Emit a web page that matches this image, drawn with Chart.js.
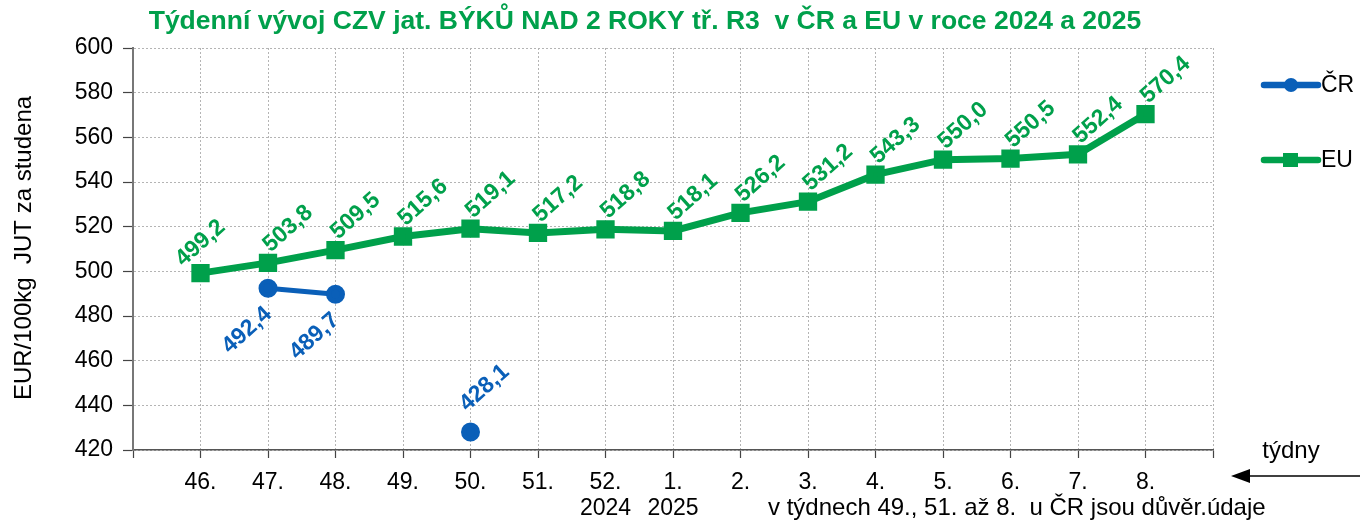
<!DOCTYPE html>
<html>
<head>
<meta charset="utf-8">
<script src="https://cdn.jsdelivr.net/npm/chart.js@4.4.1/dist/chart.umd.min.js"></script>
<style>
  html, body { margin: 0; padding: 0; background: #fff; }
  #wrap { width: 1360px; height: 521px; }
</style>
</head>
<body>
<div id="wrap"><canvas id="graf" width="1360" height="521"></canvas></div>
<script>
// týdny (2024 -> 2025)
const tydny = ['46.', '47.', '48.', '49.', '50.', '51.', ['52.', '2024'], ['1.', '2025'], '2.', '3.', '4.', '5.', '6.', '7.', '8.'];
// CZV jat. býků nad 2 roky tř. R3, EUR/100kg JUT za studena
const cenyCR = [null, 492.4, 489.7, null, 428.1, null, null, null, null, null, null, null, null, null, null];
const cenyEU = [499.2, 503.8, 509.5, 515.6, 519.1, 517.2, 518.8, 518.1, 526.2, 531.2, 543.3, 550.0, 550.5, 552.4, 570.4];
const osaYmin = 420;
const osaYmax = 600;
const osaYkrok = 20;

const ZELENA = '#00A04B';
const MODRA = '#0A5FB8';
const PISMO = "'Liberation Sans', Arial, sans-serif";

// prazdne sloty na krajich osy -> body lezi na mrizce
const popisky = ['', ...tydny, ''];
const sCR = [null, ...cenyCR, null];
const sEU = [null, ...cenyEU, null];

const fmt = v => v.toFixed(1).replace('.', ',');

const texty = {
    id: 'texty',
    afterDatasetsDraw(chart) {
        const ctx = chart.ctx;
        ctx.save();

        // popisky hodnot, otocene
        chart.data.datasets.forEach((ds, i) => {
            const meta = chart.getDatasetMeta(i);
            ctx.fillStyle = ds.borderColor;
            ctx.font = 'bold 23px ' + PISMO;
            ctx.textAlign = 'center';
            ctx.textBaseline = 'middle';
            let prvni = true;
            meta.data.forEach((pt, j) => {
                const v = ds.data[j];
                if (v == null) return;
                let dx = 20, dy = -34;
                if (ds.label === 'EU' && prvni) { dx = 0; dy = -30; }
                if (ds.label === 'ČR') {
                    if (v > 450) { dx = -21; dy = 42; } else { dx = 14; dy = -44; }
                }
                prvni = false;
                ctx.save();
                ctx.translate(pt.x + dx, pt.y + dy);
                ctx.rotate(-42 * Math.PI / 180);
                ctx.fillText(fmt(v), 0, 0);
                ctx.restore();
            });
        });

        // nadpis
        ctx.fillStyle = ZELENA;
        ctx.font = 'bold 26.5px ' + PISMO;
        ctx.textAlign = 'center';
        ctx.textBaseline = 'middle';
        ctx.fillText('Týdenní vývoj CZV jat. BÝKŮ NAD 2 ROKY tř. R3  v ČR a EU v roce 2024 a 2025', 645, 22);

        // popis osy Y
        ctx.fillStyle = '#000';
        ctx.font = '24px ' + PISMO;
        ctx.save();
        ctx.translate(24, 248);
        ctx.rotate(-Math.PI / 2);
        ctx.fillText('EUR/100kg  JUT za studena', 0, 0);
        ctx.restore();

        // legenda
        const leg = [
            { t: 'ČR', c: MODRA, y: 85, m: 'circle' },
            { t: 'EU', c: ZELENA, y: 160, m: 'square' }
        ];
        leg.forEach(l => {
            ctx.strokeStyle = l.c;
            ctx.fillStyle = l.c;
            ctx.lineWidth = 6.5;
            ctx.lineCap = 'round';
            ctx.beginPath();
            ctx.moveTo(1264, l.y);
            ctx.lineTo(1318, l.y);
            ctx.stroke();
            if (l.m === 'circle') {
                ctx.beginPath();
                ctx.arc(1291, l.y, 7, 0, Math.PI * 2);
                ctx.fill();
            } else {
                ctx.fillRect(1283, l.y - 7, 15, 14);
            }
            ctx.fillStyle = '#000';
            ctx.font = '23px ' + PISMO;
            ctx.textAlign = 'left';
            ctx.fillText(l.t, 1321, l.y + 1);
        });

        // tydny + sipka
        ctx.textAlign = 'center';
        ctx.font = '24px ' + PISMO;
        ctx.fillText('týdny', 1291, 451);
        ctx.strokeStyle = '#000';
        ctx.lineWidth = 1.5;
        ctx.lineCap = 'butt';
        ctx.beginPath();
        ctx.moveTo(1360, 476);
        ctx.lineTo(1245, 476);
        ctx.stroke();
        ctx.beginPath();
        ctx.moveTo(1231, 476);
        ctx.lineTo(1250, 469);
        ctx.lineTo(1250, 483);
        ctx.closePath();
        ctx.fill();

        // poznamka
        ctx.textAlign = 'left';
        ctx.fillText('v týdnech 49., 51. až 8.  u ČR jsou důvěr.údaje', 768, 508);

        ctx.restore();
    }
};

new Chart(document.getElementById('graf'), {
    type: 'line',
    data: {
        labels: popisky,
        datasets: [
            {
                label: 'ČR',
                data: sCR,
                borderColor: MODRA,
                backgroundColor: MODRA,
                borderWidth: 5,
                pointStyle: 'circle',
                pointRadius: 7,
                pointHoverRadius: 7,
                spanGaps: false,
                order: 0
            },
            {
                label: 'EU',
                data: sEU,
                borderColor: ZELENA,
                backgroundColor: ZELENA,
                borderWidth: 7,
                pointStyle: 'rect',
                pointRadius: 8,
                pointHoverRadius: 8,
                order: 1
            }
        ]
    },
    options: {
        responsive: false,
        animation: false,
        devicePixelRatio: 1,
        layout: { padding: { left: 0, right: 147, top: 48, bottom: 0 } },
        plugins: {
            legend: { display: false },
            title: { display: false },
            tooltip: { enabled: false }
        },
        scales: {
            x: {
                offset: false,
                afterFit: s => { s.height = 71; },
                grid: {
                    color: '#b4b4b4',
                    lineWidth: 1,
                    tickLength: 8,
                    tickColor: '#444',
                    tickWidth: 1.2
                },
                border: { color: '#555', width: 1.5, dash: [2, 2] },
                ticks: {
                    autoSkip: false,
                    maxRotation: 0,
                    padding: 11,
                    color: '#000',
                    font: { family: PISMO, size: 23, lineHeight: 1.15 }
                }
            },
            y: {
                min: osaYmin,
                max: osaYmax,
                afterFit: s => { s.width = 133; },
                grid: {
                    color: '#b4b4b4',
                    lineWidth: 1,
                    tickLength: 10,
                    tickColor: '#444',
                    tickWidth: 1.2
                },
                border: { color: '#777', width: 2, dash: [2, 2] },
                ticks: {
                    stepSize: osaYkrok,
                    padding: 10,
                    color: '#000',
                    font: { family: PISMO, size: 23 }
                }
            }
        }
    },
    plugins: [texty]
});
</script>
</body>
</html>
